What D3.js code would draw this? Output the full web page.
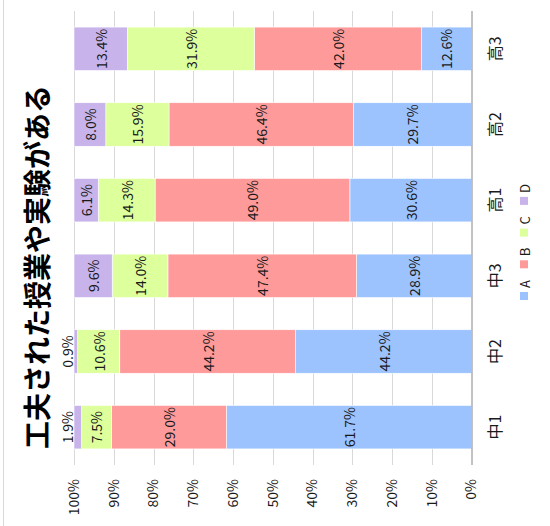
<!DOCTYPE html>
<html>
<head>
<meta charset="utf-8">
<script src="https://cdn.jsdelivr.net/npm/d3@7"></script>
<style>
  html, body { margin: 0; padding: 0; background: #fff; }
  svg { display: block; font-family: "Noto Sans CJK JP", "Noto Sans", sans-serif; }
</style>
</head>
<body>
<svg id="chart" width="550" height="526"></svg>
<script>
const title = "工夫された授業や実験がある";
const categories = ["中1", "中2", "中3", "高1", "高2", "高3"];
const seriesNames = ["A", "B", "C", "D"];
const seriesA = [61.7, 44.2, 28.9, 30.6, 29.7, 12.6];
const seriesB = [29.0, 44.2, 47.4, 49.0, 46.4, 42.0];
const seriesC = [7.5, 10.6, 14.0, 14.3, 15.9, 31.9];
const seriesD = [1.9, 0.9, 9.6, 6.1, 8.0, 13.4];
const tickValues = [0, 0.1, 0.2, 0.3, 0.4, 0.5, 0.6, 0.7, 0.8, 0.9, 1.0];
const colors = ["#9dc3ff", "#ff9a9a", "#ddff9c", "#c8b4ea"];

const rows = categories.map((c, i) => ({
  cat: c, A: seriesA[i], B: seriesB[i], C: seriesC[i], D: seriesD[i]
}));

const svg = d3.select("#chart");
// The whole chart is drawn rotated 90° counter-clockwise.
const W = 526;
const g = svg.append("g").attr("transform", `translate(0,${W}) rotate(-90)`);

// outer border (top edge of the unrotated chart)
g.append("line").attr("x1", 0).attr("x2", W).attr("y1", 3.5).attr("y2", 3.5)
  .attr("stroke", "#d9d9d9").attr("stroke-width", 1);

const x = d3.scaleBand().domain(categories).range([61, 515])
  .paddingInner(0.425).paddingOuter(0.2125);
const y = d3.scaleLinear().domain([0, 1]).range([471.5, 74]);

// gridlines
g.append("g").selectAll("line").data(tickValues.filter(t => t > 0)).join("line")
  .attr("x1", 61).attr("x2", 515)
  .attr("y1", d => Math.round(y(d)) + 0.5).attr("y2", d => Math.round(y(d)) + 0.5)
  .attr("stroke", "#d9d9d9").attr("stroke-width", 1);

// value axis labels
const yAxis = d3.axisLeft(y).tickValues(tickValues).tickFormat(d3.format(".0%")).tickSize(0).tickPadding(0);
const ya = g.append("g").attr("transform", "translate(47,0)").call(yAxis);
ya.select(".domain").remove();
ya.selectAll("text").attr("font-size", 14).attr("fill", "#1a1a1a")
  .attr("font-family", "'Noto Sans CJK JP', sans-serif");

// stacked bars
const stack = d3.stack().keys(seriesNames).offset(d3.stackOffsetExpand);
const stacked = stack(rows);

const layers = g.append("g").selectAll("g").data(stacked).join("g")
  .attr("fill", (d, i) => colors[i]);
layers.selectAll("rect").data(d => d).join("rect")
  .attr("x", d => x(d.data.cat))
  .attr("width", x.bandwidth())
  .attr("y", d => y(d[1]))
  .attr("height", d => y(d[0]) - y(d[1]))
  .attr("stroke", "#ffffff").attr("stroke-width", 0.6);

// data labels
const labels = g.append("g");
stacked.forEach(layer => {
  layer.forEach(d => {
    const v = d.data[layer.key];
    const small = v < 3;
    const cy = small ? y(1) - 7.5 : (y(d[0]) + y(d[1])) / 2;
    labels.append("text")
      .attr("x", x(d.data.cat) + x.bandwidth() / 2)
      .attr("y", cy)
      .attr("text-anchor", "middle")
      .attr("dominant-baseline", "central")
      .attr("font-size", 14)
      .attr("fill", "#1a1a1a")
      .text(v.toFixed(1) + "%");
  });
});

// category axis line
g.append("line").attr("x1", 61).attr("x2", 515).attr("y1", 472).attr("y2", 472)
  .attr("stroke", "#868686").attr("stroke-width", 1);

// category labels
const xAxis = d3.axisBottom(x).tickSize(0).tickPadding(0);
const xa = g.append("g").attr("transform", "translate(0,494)").call(xAxis);
xa.select(".domain").remove();
xa.selectAll("text").attr("font-size", 16).attr("fill", "#1a1a1a")
  .attr("dy", null).attr("dominant-baseline", "central")
  .attr("font-family", "'Noto Sans CJK JP', sans-serif");

// title
g.append("text").attr("x", 259).attr("y", 36)
  .attr("text-anchor", "middle").attr("dominant-baseline", "central")
  .attr("font-size", 28).attr("font-weight", "bold").attr("fill", "#000")
  .text(title);

// legend
const legend = g.append("g").selectAll("g").data(seriesNames).join("g")
  .attr("transform", (d, i) => `translate(${226 + i * 31.7},520)`);
legend.append("rect").attr("width", 8).attr("height", 8)
  .attr("fill", (d, i) => colors[i]);
legend.append("text").attr("x", 12).attr("y", 4)
  .attr("dominant-baseline", "central").attr("font-size", 13).attr("fill", "#1a1a1a")
  .text(d => d);
</script>
</body>
</html>
